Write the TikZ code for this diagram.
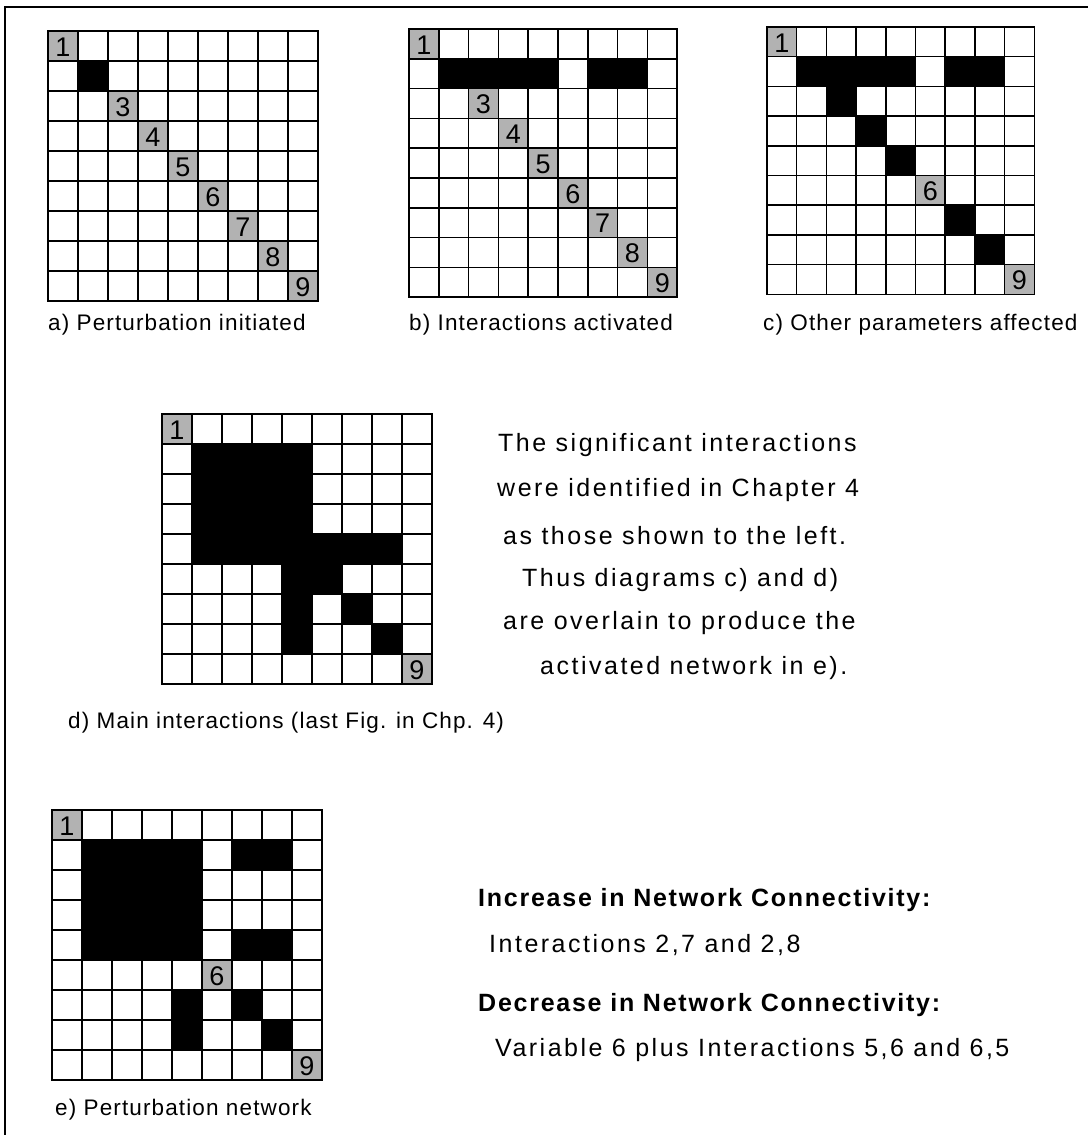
\documentclass[tikz,border=0pt]{standalone}
\usepackage{fontspec}
\setmainfont{Liberation Sans}
\newfontfamily\bodyfont[LetterSpace=10]{Liberation Sans}
\newfontfamily\boldfont[LetterSpace=7]{Liberation Sans}
\newfontfamily\labfont[LetterSpace=5]{Liberation Sans}
\definecolor{stip}{gray}{0.70}
\tikzset{
  gridline/.style={line width=1.5pt, black, line cap=rect},
  digit/.style={inner sep=0pt, font=\fontsize{27}{27}\selectfont},
  caplabel/.style={anchor=west, inner sep=0pt, font=\labfont\fontsize{22.5}{24}\selectfont},
  bodyline/.style={anchor=west, inner sep=0pt, font=\bodyfont\fontsize{25}{28}\selectfont},
  boldline/.style={anchor=west, inner sep=0pt, font=\boldfont\bfseries\fontsize{25}{28}\selectfont},
  frame/.style={line width=1.8pt, black}
}
\newcommand{\mygrid}[6]{%
\begin{scope}[shift={(#2,#3)}]
\foreach \r/\c in {#5}{\fill[black] ({(\c-1)*#4},{(\r-1)*#4}) rectangle ({\c*#4},{\r*#4});}
\foreach \r/\c/\l in {#6}{\fill[stip] ({(\c-1)*#4},{(\r-1)*#4}) rectangle ({\c*#4},{\r*#4});
  \node[digit] (#1-\l) at ({(\c-0.5)*#4},{(\r-0.5)*#4+1}) {\l};}
\foreach \i in {0,...,9}{\draw[gridline] ({\i*#4},0) -- ({\i*#4},{9*#4});
  \draw[gridline] (0,{\i*#4}) -- ({9*#4},{\i*#4});}
\end{scope}}
\begin{document}
\begin{tikzpicture}[x=1pt,y=-1pt]
\useasboundingbox (0,0) rectangle (1088,1135);
% outer frame (left and top sides)
\coordinate (fa) at (5,1135);
\coordinate (fb) at (5,7);
\coordinate (fc) at (1088,7);
\draw[frame] (fa) -- (fb) -- (fc);
% grid a
\mygrid{ga}{48}{31}{30}{2/2}{1/1/1,3/3/3,4/4/4,5/5/5,6/6/6,7/7/7,8/8/8,9/9/9}
% grid b
\mygrid{gb}{409}{29}{29.8}{2/2,2/3,2/4,2/5,2/7,2/8}{1/1/1,3/3/3,4/4/4,5/5/5,6/6/6,7/7/7,8/8/8,9/9/9}
% grid c
\mygrid{gc}{767}{27}{29.7}{2/2,2/3,2/4,2/5,2/7,2/8,3/3,4/4,5/5,7/7,8/8}{1/1/1,6/6/6,9/9/9}
% grid d
\mygrid{gd}{162}{414}{30}{2/2,2/3,2/4,2/5,3/2,3/3,3/4,3/5,4/2,4/3,4/4,4/5,5/2,5/3,5/4,5/5,5/6,5/7,5/8,6/5,6/6,7/5,7/7,8/5,8/8}{1/1/1,9/9/9}
% grid e
\mygrid{ge}{52}{810}{30}{2/2,2/3,2/4,2/5,3/2,3/3,3/4,3/5,4/2,4/3,4/4,4/5,5/2,5/3,5/4,5/5,2/7,2/8,5/7,5/8,7/5,7/7,8/5,8/8}{1/1/1,6/6/6,9/9/9}
% captions
\node[caplabel] (la) at (48,325) {a) Perturbation initiated};
\node[caplabel] (lb) at (409,325) {b) Interactions activated};
\node[caplabel] (lc) at (763,325) {c) Other parameters affected};
\node[caplabel] (ld) at (68,723) {d) Main interactions (last Fig. in Chp. 4)};
\node[caplabel] (le) at (55,1110) {e) Perturbation network};
% text beside d
\node[bodyline] (t1) at (498,445) {The significant interactions};
\node[bodyline] (t2) at (497,490) {were identified in Chapter 4};
\node[bodyline] (t3) at (503,536) {as those shown to the left.};
\node[bodyline] (t4) at (522,580) {Thus diagrams c) and d)};
\node[bodyline] (t5) at (503,623) {are overlain to produce the};
\node[bodyline] (t6) at (540,668) {activated network in e).};
% text beside e
\node[boldline] (u1) at (478,900) {Increase in Network Connectivity:};
\node[bodyline] (u2) at (489,945) {Interactions 2,7 and 2,8};
\node[boldline] (u3) at (478,1005) {Decrease in Network Connectivity:};
\node[bodyline] (u4) at (495,1050) {Variable 6 plus Interactions 5,6 and 6,5};
\end{tikzpicture}
\end{document}
